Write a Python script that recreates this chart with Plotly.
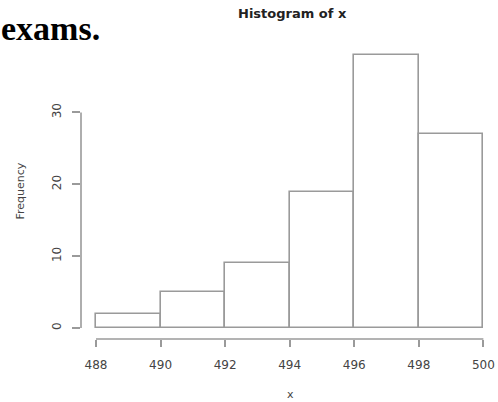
import plotly.graph_objects as go

# Histogram data (bins of width 2 from 488 to 500)
bin_edges = [488, 490, 492, 494, 496, 498, 500]
counts = [2, 5, 9, 19, 38, 27]
x_ticks = [488, 490, 492, 494, 496, 498, 500]
y_ticks = [0, 10, 20, 30]

centers = [(bin_edges[i] + bin_edges[i + 1]) / 2 for i in range(len(counts))]
widths = [bin_edges[i + 1] - bin_edges[i] for i in range(len(counts))]

LINE = "#9a9a9a"
TXT = "#444444"
L, R, T, B = 81, 0, 44, 63
W, H = 498, 402
pw, ph = W - L - R, H - T - B

fig = go.Figure()
fig.add_trace(go.Bar(
    x=centers, y=counts, width=widths,
    marker=dict(color="white", line=dict(color=LINE, width=1.6)),
    showlegend=False, hoverinfo="skip",
))

xr = [487.535, 487.535 + pw / 32.28]
yr = [-1.52, 39.52]

fig.update_layout(
    width=W, height=H,
    margin=dict(l=L, r=R, t=T, b=B),
    paper_bgcolor="white", plot_bgcolor="white",
    bargap=0,
    font=dict(family="DejaVu Sans", color=TXT),
    xaxis=dict(range=xr, tickvals=x_ticks, ticktext=[str(v) for v in x_ticks],
               showgrid=False, zeroline=False, showline=False,
               ticks="outside", ticklen=7, tickwidth=1.6, tickcolor=LINE,
               tickfont=dict(size=12, color=TXT), ticklabelstandoff=8),
    yaxis=dict(range=yr, tickvals=y_ticks, ticktext=[str(v) for v in y_ticks],
               showgrid=False, zeroline=False, showline=False,
               ticks="outside", ticklen=8, tickwidth=1.6, tickcolor=LINE,
               tickangle=-90,
               tickfont=dict(size=12, color=TXT), ticklabelstandoff=6),
)

# R-style axis lines spanning first to last tick
fig.add_shape(type="line", xref="x", yref="paper",
              x0=min(x_ticks), x1=max(x_ticks), y0=0, y1=0,
              line=dict(color=LINE, width=1.6))
fig.add_shape(type="line", xref="paper", yref="y",
              x0=0, x1=0, y0=min(y_ticks), y1=max(y_ticks),
              line=dict(color=LINE, width=1.6))

def px(xp):
    return (xp - L) / pw

def py(yp):
    return (H - B - yp) / ph

fig.add_annotation(text="<b>Histogram of x</b>", xref="paper", yref="paper",
                   x=px(292), y=py(13), showarrow=False,
                   font=dict(family="DejaVu Sans", size=13, color="#222222"),
                   xanchor="center", yanchor="middle")
fig.add_annotation(text="<b>exams.</b>", xref="paper", yref="paper",
                   x=px(0), y=py(29), showarrow=False,
                   font=dict(family="Liberation Serif", size=34, color="black"),
                   xanchor="left", yanchor="middle", borderpad=0)
fig.add_annotation(text="x", xref="paper", yref="paper",
                   x=px(290), y=py(394), showarrow=False,
                   font=dict(family="DejaVu Sans", size=11, color=TXT),
                   xanchor="center", yanchor="middle")
fig.add_annotation(text="Frequency", xref="paper", yref="paper",
                   x=px(20), y=py(191.5), showarrow=False, textangle=-90,
                   font=dict(family="DejaVu Sans", size=11, color=TXT),
                   xanchor="center", yanchor="middle")

fig.write_html("out.html", config={"displayModeBar": False},
               post_script="document.body.style.margin='0';document.body.style.overflow='hidden';")
